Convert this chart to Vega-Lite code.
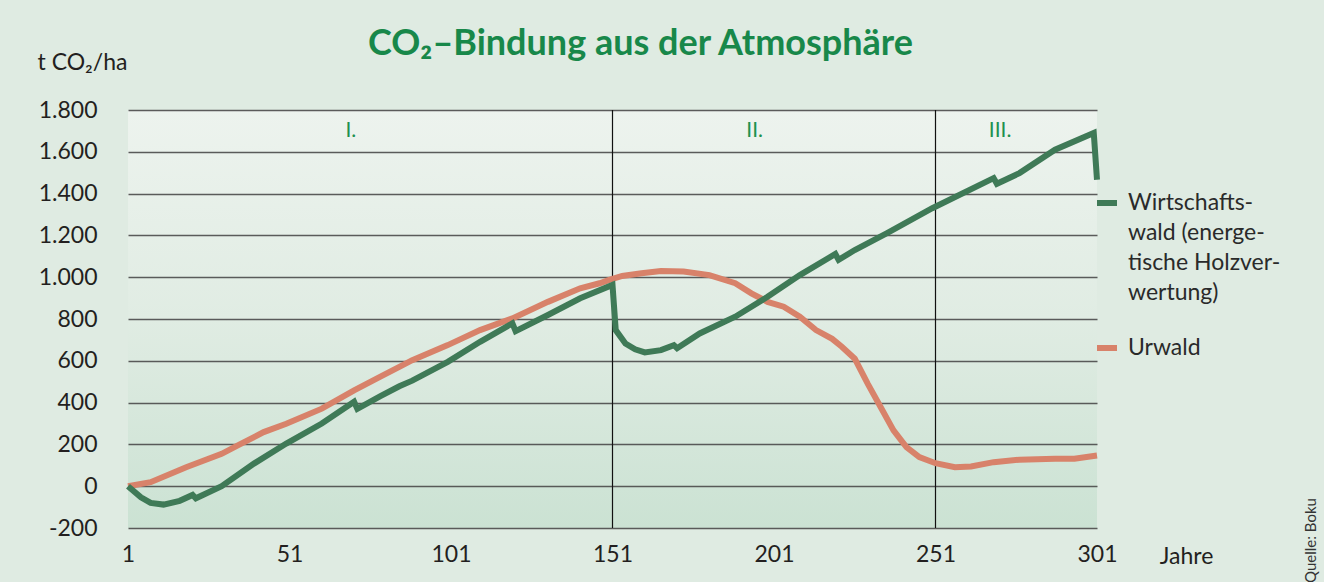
{
  "$schema": "https://vega.github.io/schema/vega-lite/v6.json",
  "width": 969,
  "height": 418,
  "autosize": "none",
  "padding": {"left": 128, "top": 110, "right": 227, "bottom": 54},
  "background": "#dfebe2",
  "title": {
    "text": "CO₂–Bindung aus der Atmosphäre",
    "font": "Lato",
    "fontSize": 36,
    "fontWeight": "bold",
    "color": "#18884a",
    "anchor": "middle",
    "frame": "group",
    "dx": 28,
    "offset": -12
  },
  "config": {
    "view": {
      "stroke": null,
      "fill": {"gradient": "linear", "x1": 0, "y1": 0, "x2": 0, "y2": 1,
        "stops": [{"offset": 0, "color": "#edf3ee"}, {"offset": 0.5, "color": "#e0ece3"}, {"offset": 1, "color": "#cbe2d3"}]}
    },
    "style": {"guide-label": {"lineHeight": 30}},
    "font": "Lato",
    "axis": {"labelFont": "Lato", "titleFont": "Lato", "labelColor": "#231f20", "titleColor": "#231f20", "titleFontWeight": "normal", "domain": false, "ticks": false},
    "axisX": {"grid": false},
    "axisY": {"grid": true, "gridColor": "#4a4a4a", "gridWidth": 1.6, "gridOpacity": 0.9}
  },
  "datasets": {
    "kurven": [
      {"Jahr": 1, "Wald": "Urwald", "CO2": 0},
      {"Jahr": 8, "Wald": "Urwald", "CO2": 19},
      {"Jahr": 19, "Wald": "Urwald", "CO2": 91},
      {"Jahr": 30, "Wald": "Urwald", "CO2": 155},
      {"Jahr": 35, "Wald": "Urwald", "CO2": 195},
      {"Jahr": 43, "Wald": "Urwald", "CO2": 259},
      {"Jahr": 50, "Wald": "Urwald", "CO2": 299},
      {"Jahr": 61, "Wald": "Urwald", "CO2": 371},
      {"Jahr": 71, "Wald": "Urwald", "CO2": 459},
      {"Jahr": 79, "Wald": "Urwald", "CO2": 523},
      {"Jahr": 85, "Wald": "Urwald", "CO2": 571},
      {"Jahr": 89, "Wald": "Urwald", "CO2": 603},
      {"Jahr": 100, "Wald": "Urwald", "CO2": 675},
      {"Jahr": 110, "Wald": "Urwald", "CO2": 747},
      {"Jahr": 120, "Wald": "Urwald", "CO2": 803},
      {"Jahr": 131, "Wald": "Urwald", "CO2": 882},
      {"Jahr": 141, "Wald": "Urwald", "CO2": 947},
      {"Jahr": 147, "Wald": "Urwald", "CO2": 971},
      {"Jahr": 150, "Wald": "Urwald", "CO2": 987},
      {"Jahr": 154, "Wald": "Urwald", "CO2": 1006},
      {"Jahr": 160, "Wald": "Urwald", "CO2": 1019},
      {"Jahr": 166, "Wald": "Urwald", "CO2": 1030},
      {"Jahr": 173, "Wald": "Urwald", "CO2": 1027},
      {"Jahr": 181, "Wald": "Urwald", "CO2": 1010},
      {"Jahr": 189, "Wald": "Urwald", "CO2": 971},
      {"Jahr": 194, "Wald": "Urwald", "CO2": 923},
      {"Jahr": 199, "Wald": "Urwald", "CO2": 882},
      {"Jahr": 204, "Wald": "Urwald", "CO2": 859},
      {"Jahr": 209, "Wald": "Urwald", "CO2": 811},
      {"Jahr": 214, "Wald": "Urwald", "CO2": 747},
      {"Jahr": 219, "Wald": "Urwald", "CO2": 705},
      {"Jahr": 222, "Wald": "Urwald", "CO2": 667},
      {"Jahr": 226, "Wald": "Urwald", "CO2": 610},
      {"Jahr": 230, "Wald": "Urwald", "CO2": 491},
      {"Jahr": 234, "Wald": "Urwald", "CO2": 379},
      {"Jahr": 238, "Wald": "Urwald", "CO2": 267},
      {"Jahr": 242, "Wald": "Urwald", "CO2": 187},
      {"Jahr": 246, "Wald": "Urwald", "CO2": 139},
      {"Jahr": 251, "Wald": "Urwald", "CO2": 110},
      {"Jahr": 257, "Wald": "Urwald", "CO2": 91},
      {"Jahr": 262, "Wald": "Urwald", "CO2": 94},
      {"Jahr": 269, "Wald": "Urwald", "CO2": 115},
      {"Jahr": 277, "Wald": "Urwald", "CO2": 127},
      {"Jahr": 288, "Wald": "Urwald", "CO2": 131},
      {"Jahr": 294, "Wald": "Urwald", "CO2": 131},
      {"Jahr": 301, "Wald": "Urwald", "CO2": 147},
      {"Jahr": 1, "Wald": "Wirtschaftswald", "CO2": 0},
      {"Jahr": 5, "Wald": "Wirtschaftswald", "CO2": -53},
      {"Jahr": 8, "Wald": "Wirtschaftswald", "CO2": -80},
      {"Jahr": 12, "Wald": "Wirtschaftswald", "CO2": -88},
      {"Jahr": 17, "Wald": "Wirtschaftswald", "CO2": -70},
      {"Jahr": 21, "Wald": "Wirtschaftswald", "CO2": -42},
      {"Jahr": 22, "Wald": "Wirtschaftswald", "CO2": -58},
      {"Jahr": 30, "Wald": "Wirtschaftswald", "CO2": 0},
      {"Jahr": 40, "Wald": "Wirtschaftswald", "CO2": 108},
      {"Jahr": 50, "Wald": "Wirtschaftswald", "CO2": 204},
      {"Jahr": 61, "Wald": "Wirtschaftswald", "CO2": 300},
      {"Jahr": 71, "Wald": "Wirtschaftswald", "CO2": 404},
      {"Jahr": 72, "Wald": "Wirtschaftswald", "CO2": 370},
      {"Jahr": 79, "Wald": "Wirtschaftswald", "CO2": 430},
      {"Jahr": 85, "Wald": "Wirtschaftswald", "CO2": 478},
      {"Jahr": 89, "Wald": "Wirtschaftswald", "CO2": 505},
      {"Jahr": 100, "Wald": "Wirtschaftswald", "CO2": 595},
      {"Jahr": 110, "Wald": "Wirtschaftswald", "CO2": 691},
      {"Jahr": 120, "Wald": "Wirtschaftswald", "CO2": 779},
      {"Jahr": 121, "Wald": "Wirtschaftswald", "CO2": 742},
      {"Jahr": 131, "Wald": "Wirtschaftswald", "CO2": 819},
      {"Jahr": 141, "Wald": "Wirtschaftswald", "CO2": 899},
      {"Jahr": 151, "Wald": "Wirtschaftswald", "CO2": 963},
      {"Jahr": 152, "Wald": "Wirtschaftswald", "CO2": 747},
      {"Jahr": 155, "Wald": "Wirtschaftswald", "CO2": 683},
      {"Jahr": 158, "Wald": "Wirtschaftswald", "CO2": 655},
      {"Jahr": 161, "Wald": "Wirtschaftswald", "CO2": 640},
      {"Jahr": 166, "Wald": "Wirtschaftswald", "CO2": 651},
      {"Jahr": 170, "Wald": "Wirtschaftswald", "CO2": 675},
      {"Jahr": 171, "Wald": "Wirtschaftswald", "CO2": 660},
      {"Jahr": 178, "Wald": "Wirtschaftswald", "CO2": 731},
      {"Jahr": 189, "Wald": "Wirtschaftswald", "CO2": 811},
      {"Jahr": 199, "Wald": "Wirtschaftswald", "CO2": 906},
      {"Jahr": 209, "Wald": "Wirtschaftswald", "CO2": 1010},
      {"Jahr": 220, "Wald": "Wirtschaftswald", "CO2": 1111},
      {"Jahr": 221, "Wald": "Wirtschaftswald", "CO2": 1083},
      {"Jahr": 226, "Wald": "Wirtschaftswald", "CO2": 1130},
      {"Jahr": 236, "Wald": "Wirtschaftswald", "CO2": 1211},
      {"Jahr": 250, "Wald": "Wirtschaftswald", "CO2": 1330},
      {"Jahr": 269, "Wald": "Wirtschaftswald", "CO2": 1474},
      {"Jahr": 270, "Wald": "Wirtschaftswald", "CO2": 1447},
      {"Jahr": 277, "Wald": "Wirtschaftswald", "CO2": 1498},
      {"Jahr": 288, "Wald": "Wirtschaftswald", "CO2": 1610},
      {"Jahr": 300, "Wald": "Wirtschaftswald", "CO2": 1690},
      {"Jahr": 301, "Wald": "Wirtschaftswald", "CO2": 1466}
    ],
    "grenzen": [{"Jahr": 151}, {"Jahr": 251}],
    "phasen": [
      {"Phase": "I.", "Jahr": 70, "CO2": 1700},
      {"Phase": "II.", "Jahr": 195, "CO2": 1700},
      {"Phase": "III.", "Jahr": 271, "CO2": 1700}
    ]
  },
  "layer": [
    {
      "layer": [
        {
          "data": {"name": "grenzen"},
          "mark": {"type": "rule", "color": "#111111", "strokeWidth": 1.2},
          "encoding": {
            "x": {"field": "Jahr", "type": "quantitative", "scale": {"domain": [1, 301], "nice": false, "zero": false}}
          }
        },
        {
          "data": {"name": "phasen"},
          "mark": {"type": "text", "font": "Lato", "fontSize": 21, "color": "#1e9150", "baseline": "middle", "align": "center"},
          "encoding": {
            "x": {"field": "Jahr", "type": "quantitative"},
            "y": {"field": "CO2", "type": "quantitative"},
            "text": {"field": "Phase"}
          }
        },
        {
          "data": {"name": "kurven"},
          "mark": {"type": "line", "strokeWidth": 6, "interpolate": "linear"},
          "encoding": {
            "x": {
              "field": "Jahr", "type": "quantitative",
              "scale": {"domain": [1, 301], "nice": false, "zero": false},
              "axis": {"values": [1, 51, 101, 151, 201, 251, 301], "format": "d", "labelFontSize": 23, "labelPadding": 15, "title": "Jahre", "titleFontSize": 23, "titleX": 1058, "titleY": 28, "titleAlign": "center", "titleBaseline": "middle", "labelFlush": false, "labelOverlap": false}
            },
            "y": {
              "field": "CO2", "type": "quantitative",
              "scale": {"domain": [-200, 1800], "nice": false, "zero": false},
              "axis": {"values": [-200, 0, 200, 400, 600, 800, 1000, 1200, 1400, 1600, 1800], "labelExpr": "datum.value < 0 ? '-' + format(-datum.value, 'd') : replace(format(datum.value, ','), ',', '.')", "labelFontSize": 23, "labelPadding": 31, "title": "t CO₂/ha", "titleFontSize": 23, "titleAngle": 0, "titleX": -46, "titleY": -48, "titleAlign": "center", "titleBaseline": "middle"}
            },
            "color": {
              "field": "Wald", "type": "nominal",
              "scale": {"domain": ["Wirtschaftswald", "Urwald"], "range": ["#3f7a57", "#d8826a"]},
              "legend": {
                "title": null, "orient": "none", "legendX": 966, "legendY": 80,
                "symbolType": "stroke", "symbolStrokeWidth": 6, "symbolSize": 400,
                "labelFont": "Lato", "labelFontSize": 23, "labelColor": "#2a2a2a", "labelLimit": 0, "labelOffset": 8, "rowPadding": 30,
                "labelExpr": "datum.label == 'Wirtschaftswald' ? ['Wirtschafts-', 'wald (energe-', 'tische Holzver-', 'wertung)'] : datum.label"
              }
            },
            "order": {"field": "Jahr", "type": "quantitative"}
          }
        }
      ]
    },
    {
      "data": {"name": "grenzen"},
      "mark": {"type": "point", "opacity": 0},
      "encoding": {
        "x": {"field": "Jahr", "type": "quantitative"},
        "y": {"field": "Jahr", "type": "quantitative", "axis": {"orient": "right", "labels": false, "grid": false, "ticks": false, "domain": false, "title": "Quelle: Boku", "titleFontSize": 15, "titleAngle": 270, "titleX": 213, "titleY": 430, "titleAlign": "center", "titleBaseline": "middle", "titleColor": "#333333"}}
      }
    }
  ],
  "resolve": {"scale": {"y": "independent"}}
}
